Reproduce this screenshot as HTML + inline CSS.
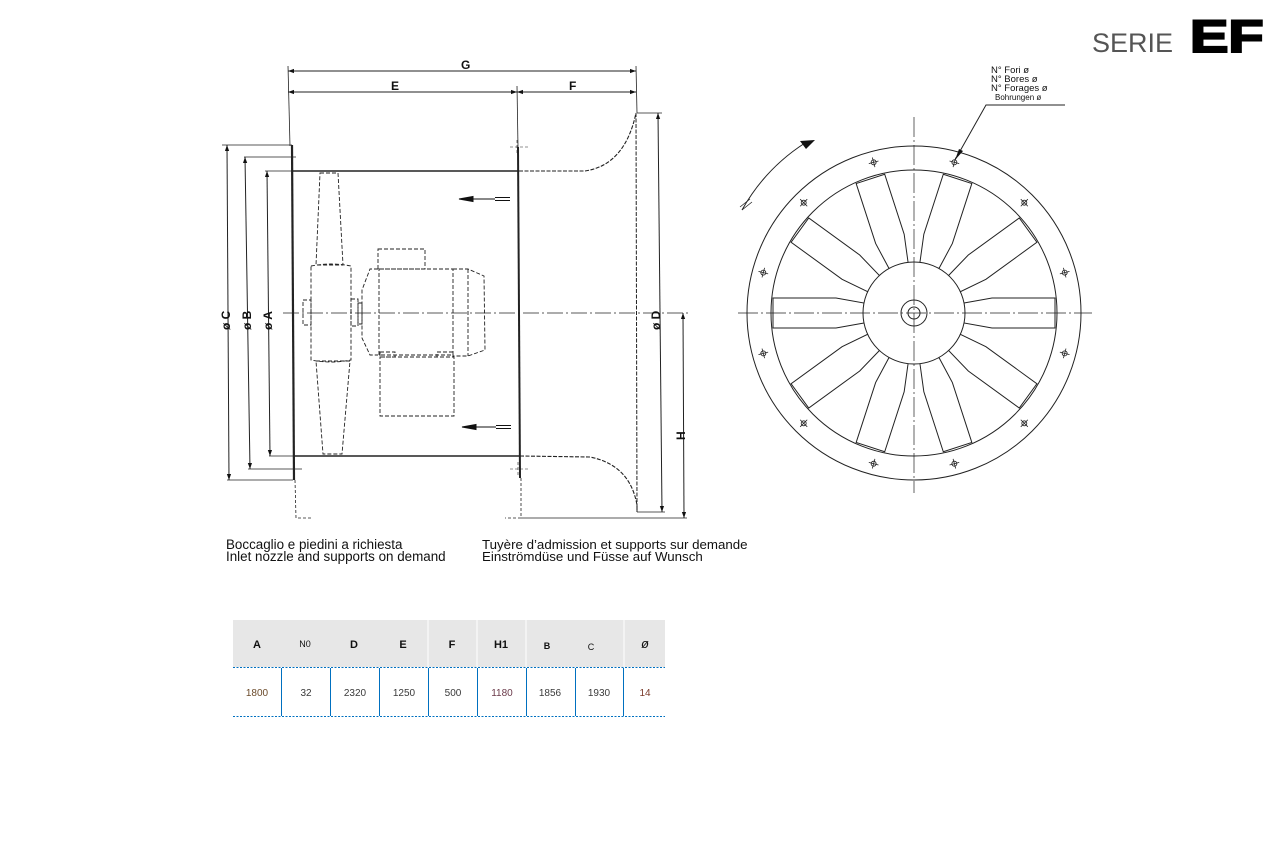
<!DOCTYPE html>
<html><head><meta charset="utf-8"><style>
html,body{margin:0;padding:0;background:#fff;width:1271px;height:848px;overflow:hidden;font-family:"Liberation Sans",sans-serif}
</style></head><body>
<svg width="1271" height="848" viewBox="0 0 1271 848" xmlns="http://www.w3.org/2000/svg" style="position:absolute;left:0;top:0">
<defs>
<marker id="ar" viewBox="0 0 10 10" refX="10" refY="5" markerWidth="9" markerHeight="6" orient="auto-start-reverse" markerUnits="userSpaceOnUse"><path d="M0,1.5 L10,5 L0,8.5z" fill="#111"/></marker>
</defs>
<!-- Title -->
<text x="1092" y="52" font-size="27" fill="#555" font-family="Liberation Sans,sans-serif">SERIE</text>
<text x="1190" y="52" font-size="48" font-weight="bold" fill="#000" stroke="#000" stroke-width="2.2" font-family="Liberation Sans,sans-serif" transform="translate(1190,52) scale(1.2,0.95) translate(-1190,-52)">EF</text>

<g stroke="#222" fill="none" stroke-width="1">
<line x1="288" y1="71" x2="636" y2="71" marker-start="url(#ar)" marker-end="url(#ar)"/>
<line x1="288" y1="92" x2="517" y2="92" marker-start="url(#ar)" marker-end="url(#ar)"/>
<line x1="517" y1="92" x2="636" y2="92" marker-start="url(#ar)" marker-end="url(#ar)"/>
<line x1="288" y1="66" x2="290" y2="146" stroke-width="0.8"/>
<line x1="636" y1="66" x2="637" y2="113" stroke-width="0.8"/>
<line x1="517" y1="86" x2="518" y2="147" stroke-width="0.8"/>
<line x1="292" y1="145" x2="294" y2="480" stroke-width="2.2"/>
<line x1="518" y1="147" x2="520" y2="478" stroke-width="2"/>
<path d="M295,480 L296,518 L312,518" stroke-dasharray="3,2" stroke-width="0.8"/>
<path d="M521,478 L521,518 L505,518" stroke-dasharray="3,2" stroke-width="0.8"/>
<line x1="292" y1="171" x2="519" y2="171" stroke-width="1.6"/>
<line x1="293" y1="456" x2="520" y2="456" stroke-width="1.6"/>
<path d="M519,171 L585,171 Q625,165 636,113" stroke-dasharray="4,1.5" stroke-width="1.1"/>
<path d="M520,456 L590,457 Q630,465 637,505 L637,512" stroke-dasharray="4,1.5" stroke-width="1.1"/>
<line x1="636" y1="113" x2="637" y2="512" stroke-dasharray="4,1.5" stroke-width="1"/>
<line x1="283" y1="313" x2="690" y2="313" stroke-dasharray="16,3,2,3" stroke-width="0.8"/>
<line x1="222" y1="145" x2="292" y2="145" stroke-width="0.8"/>
<line x1="244" y1="157" x2="296" y2="157" stroke-width="0.8"/>
<line x1="265" y1="171" x2="292" y2="171" stroke-width="0.8"/>
<line x1="227" y1="480" x2="293" y2="480" stroke-width="0.8"/>
<line x1="248" y1="469" x2="302" y2="469" stroke-width="0.8"/>
<line x1="269" y1="456" x2="293" y2="456" stroke-width="0.8"/>
<line x1="227" y1="145" x2="229" y2="480" marker-start="url(#ar)" marker-end="url(#ar)"/>
<line x1="245" y1="157" x2="250" y2="469" marker-start="url(#ar)" marker-end="url(#ar)"/>
<line x1="267" y1="171" x2="270" y2="456" marker-start="url(#ar)" marker-end="url(#ar)"/>
<line x1="637" y1="113" x2="662" y2="113" stroke-width="0.8"/>
<line x1="637" y1="512" x2="665" y2="512" stroke-width="0.8"/>
<line x1="658" y1="113" x2="662" y2="512" marker-start="url(#ar)" marker-end="url(#ar)"/>
<line x1="521" y1="518" x2="687" y2="518" stroke-width="0.8"/>
<line x1="683" y1="313" x2="684" y2="518" marker-start="url(#ar)" marker-end="url(#ar)"/>
<path d="M510,147 L530,147 M517,140 L517,155 M510,469 L530,469 M518,462 L518,476" stroke-width="0.6" stroke-dasharray="3,2"/>
<g stroke-dasharray="4,2" stroke-width="0.9">
<path d="M320,173 L338,173 L343,265 L316,265 Z"/>
<path d="M311,266 Q331,262 351,266 L351,360 Q331,364 311,360 Z"/>
<path d="M316,361 L350,361 L342,454 L323,454 Z"/>
<rect x="303" y="300" width="8" height="25"/>
<rect x="351" y="299" width="7" height="27"/>
<rect x="358" y="303" width="4" height="21"/>
<path d="M378,269 L370,269 L362,290 L362,338 L370,355 L378,355"/>
<rect x="379" y="269" width="74" height="86"/>
<rect x="378" y="249" width="47" height="20"/>
<path d="M453,269 L468,269 L484,276 L485,350 L468,356 L453,356"/>
<line x1="468" y1="269" x2="468" y2="356"/>
<rect x="380" y="352" width="15" height="5"/>
<rect x="437" y="352" width="16" height="5"/>
<rect x="380" y="357" width="74" height="59"/>
</g>
</g>
<g stroke="#111" stroke-width="1">
<line x1="470" y1="199" x2="495" y2="199"/><path d="M459,199 L473,196.5 L473,201.5z" fill="#111"/>
<line x1="495" y1="197.5" x2="510" y2="197.5"/><line x1="495" y1="200.5" x2="510" y2="200.5"/>
<line x1="473" y1="427" x2="496" y2="427"/><path d="M462,427 L476,424.5 L476,429.5z" fill="#111"/>
<line x1="496" y1="425.5" x2="511" y2="425.5"/><line x1="496" y1="428.5" x2="511" y2="428.5"/>
</g>
<g font-family="Liberation Sans,sans-serif" font-weight="bold" font-size="12" fill="#111">
<text x="461" y="69">G</text>
<text x="391" y="90">E</text>
<text x="569" y="90">F</text>
<text transform="translate(230,330) rotate(-90)">ø C</text>
<text transform="translate(251,330) rotate(-90)">ø B</text>
<text transform="translate(272,330) rotate(-90)">ø A</text>
<text transform="translate(660,330) rotate(-90)">ø D</text>
<text transform="translate(685,440) rotate(-90)">H</text>
</g>
<g font-family="Liberation Sans,sans-serif" font-size="13.4" fill="#111">
<text x="226" y="549">Boccaglio e piedini a richiesta</text>
<text x="226" y="561">Inlet nozzle and supports on demand</text>
<text x="482" y="549" font-size="13.3">Tuyère d’admission et supports sur demande</text>
<text x="482" y="561" font-size="13.3">Einströmdüse und Füsse auf Wunsch</text>
</g>

<!-- front view -->
<g stroke="#222" fill="none" stroke-width="1" transform="translate(914,313)">
<circle r="167"/>
<circle r="143"/>
<g id="bl">
<polygon points="50,-10 78,-15 141,-15 141,15 78,15 50,10" fill="#fff"/>
</g>
<use href="#bl" transform="rotate(36)"/><use href="#bl" transform="rotate(72)"/><use href="#bl" transform="rotate(108)"/>
<use href="#bl" transform="rotate(144)"/><use href="#bl" transform="rotate(180)"/><use href="#bl" transform="rotate(216)"/>
<use href="#bl" transform="rotate(252)"/><use href="#bl" transform="rotate(288)"/><use href="#bl" transform="rotate(324)"/>
<circle r="51" fill="#fff"/>
<circle r="13"/>
<circle r="6"/>
<line x1="-176" y1="0" x2="178" y2="0" stroke-width="0.7" stroke-dasharray="20,3,2,3"/>
<line x1="0" y1="-196" x2="0" y2="180" stroke-width="0.7" stroke-dasharray="20,3,2,3"/>
<g stroke-width="0.8">
<g id="bo" transform="rotate(-75) translate(156,0)"><circle r="2.5"/><path d="M-5,0 H5 M0,-5 V5"/></g>
<use href="#bo" transform="rotate(30)"/><use href="#bo" transform="rotate(60)"/><use href="#bo" transform="rotate(90)"/>
<use href="#bo" transform="rotate(120)"/><use href="#bo" transform="rotate(150)"/><use href="#bo" transform="rotate(180)"/>
<use href="#bo" transform="rotate(210)"/><use href="#bo" transform="rotate(240)"/><use href="#bo" transform="rotate(270)"/>
<use href="#bo" transform="rotate(300)"/><use href="#bo" transform="rotate(330)"/>
</g>
</g>
<path d="M742,210 A190,190 0 0 1 805,143" stroke="#222" fill="none" stroke-width="1"/>
<path d="M815,140 L800,141 L806,149z" fill="#111"/>
<path d="M740,207 L750,199 M742,210 L752,202" stroke="#222" stroke-width="0.8"/>
<path d="M955,160 L986,105 L1065,105" stroke="#222" fill="none" stroke-width="1"/>
<path d="M955,160 L959,149 L963,151z" fill="#111"/>
<g font-family="Liberation Sans,sans-serif" font-size="9.5" fill="#111">
<text x="991" y="73">N°  Fori ø</text>
<text x="991" y="82">N°  Bores ø</text>
<text x="991" y="91">N°  Forages ø</text>
<text x="995" y="100" font-size="8">Bohrungen ø</text>
</g>

<!-- table -->
<rect x="233" y="620" width="432" height="47" fill="#e7e7e7"/>
<g stroke="#fff" stroke-width="1">
<line x1="428" y1="620" x2="428" y2="667"/><line x1="477" y1="620" x2="477" y2="667"/>
<line x1="526" y1="620" x2="526" y2="667"/><line x1="624" y1="620" x2="624" y2="667"/>
</g>
<g stroke="#0070c0" stroke-width="1">
<line x1="233" y1="667.5" x2="665" y2="667.5" stroke-dasharray="2,1.5"/>
<line x1="233" y1="716.5" x2="665" y2="716.5" stroke-dasharray="2,1.5"/>
<line x1="281.5" y1="668" x2="281.5" y2="716"/><line x1="330.5" y1="668" x2="330.5" y2="716"/>
<line x1="379.5" y1="668" x2="379.5" y2="716"/><line x1="428.5" y1="668" x2="428.5" y2="716"/>
<line x1="477.5" y1="668" x2="477.5" y2="716"/><line x1="526.5" y1="668" x2="526.5" y2="716"/>
<line x1="575.5" y1="668" x2="575.5" y2="716"/><line x1="623.5" y1="668" x2="623.5" y2="716"/>
</g>
<g font-family="Liberation Sans,sans-serif" font-weight="bold" fill="#111" text-anchor="middle" font-size="11">
<text x="257" y="648">A</text>
<text x="305" y="647" font-size="9" font-weight="normal">N0</text>
<text x="354" y="648">D</text>
<text x="403" y="648">E</text>
<text x="452" y="648">F</text>
<text x="501" y="648">H1</text>
<text x="547" y="649" font-size="9">B</text>
<text x="591" y="650" font-size="9" font-weight="normal">C</text>
<text x="645" y="648" font-style="italic" font-weight="normal" font-size="13">ø</text>
</g>
<g font-family="Liberation Sans,sans-serif" fill="#3a3a3a" text-anchor="middle" font-size="10">
<text x="257" y="696" fill="#6b4a2a">1800</text>
<text x="306" y="696">32</text>
<text x="355" y="696">2320</text>
<text x="404" y="696">1250</text>
<text x="453" y="696">500</text>
<text x="502" y="696" fill="#6b3a4a">1180</text>
<text x="550" y="696">1856</text>
<text x="599" y="696">1930</text>
<text x="645" y="696" fill="#7a3a2a">14</text>
</g>
</svg>
</body></html>
